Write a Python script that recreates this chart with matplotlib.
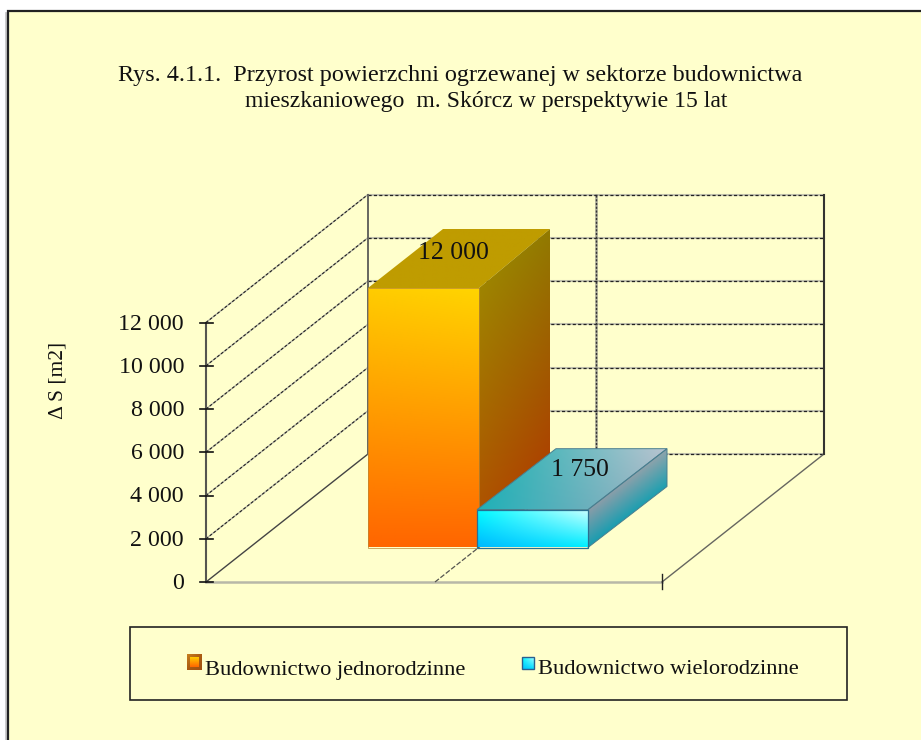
import numpy as np
import matplotlib
matplotlib.use('Agg')
import matplotlib.pyplot as plt
from matplotlib.patches import Polygon, Rectangle
from matplotlib.colors import to_rgb

# data
categories = ['Budownictwo jednorodzinne', 'Budownictwo wielorodzinne']
values = [12000, 1750]
value_labels = ['12 000', '1 750']
tick_values = [0, 2000, 4000, 6000, 8000, 10000, 12000]
tick_labels = ['0', '2 000', '4 000', '6 000', '8 000', '10 000', '12 000']
title_lines = ['Rys. 4.1.1.  Przyrost powierzchni ogrzewanej w sektorze budownictwa',
               'mieszkaniowego  m. Skórcz w perspektywie 15 lat']
y_label = 'Δ S [m2]'

# layout in pixels
BG = '#ffffcc'
FONT = 'Liberation Serif'
Y0 = 582.0
PX_PER_UNIT = 259.5 / 12000
X_LEFT, X_MID, X_RIGHT = 206, 435, 662
WALL_DX, WALL_DY = 162, -128
BAR_BASE = 547.5
BAR_X = [(368, 479), (477, 588)]
BAR_DEPTH = [(71, -59), (79, -61)]


def val_y(v, base=Y0):
    return base - v * PX_PER_UNIT


def shade(ax, pts, tl, tr, bl, br, edge='none', lw=0, z=3, shear=0.0):
    # polygon filled with a four corner gradient, clipped from an image
    # shear follows a slanted top edge (side faces of the bars)
    pts = np.array(pts, dtype=float)
    x0, y0 = pts.min(axis=0)
    x1, y1 = pts.max(axis=0)
    u, v = np.meshgrid(np.linspace(0, 1, 64), np.linspace(0, 1, 64))
    v = np.clip((v - shear * (1 - u)) / (1 - shear), 0, 1)
    img = np.zeros((64, 64, 3))
    for c, w in [(tl, (1 - u) * (1 - v)), (tr, u * (1 - v)), (bl, (1 - u) * v), (br, u * v)]:
        img += np.array(to_rgb(c)) * w[..., None]
    im = ax.imshow(img, extent=(x0, x1, y1, y0), aspect='auto', zorder=z, interpolation='bilinear')
    clip = Polygon(pts, closed=True, transform=ax.transData, fc='none', ec=edge, lw=lw, zorder=z + 0.1)
    ax.add_patch(clip)
    im.set_clip_path(clip)


fig = plt.figure(figsize=(9.21, 7.4), dpi=100)
ax = fig.add_axes([0, 0, 1, 1])
ax.axis('off')

# page frame
ax.add_patch(Rectangle((8, 11), 930, 760, fc=BG, ec='#222222', lw=1.6, zorder=1))
ax.plot([5.5, 5.5], [13, 740], color='#c8c8c8', lw=2, zorder=0.5)

# title
ax.text(118, 76, title_lines[0], family=FONT, fontsize=17.4, va='center', ha='left', color='#111111')
ax.text(245, 102, title_lines[1], family=FONT, fontsize=17.1, va='center', ha='left', color='#111111')

# walls and grid
dash = (0, (2.5, 1.8))
for t in tick_values:
    y = val_y(t)
    ax.plot([X_LEFT + WALL_DX, X_RIGHT + WALL_DX], [y + WALL_DY] * 2, color='#c4c4b0', lw=1.5, zorder=2)
    ax.plot([X_LEFT + WALL_DX, X_RIGHT + WALL_DX], [y + WALL_DY] * 2, color='#222222', lw=0.9, ls=dash, zorder=2.1)
    if t > 0:
        ax.plot([X_LEFT, X_LEFT + WALL_DX], [y, y + WALL_DY], color='#b4b4a4', lw=1.0, zorder=2)
        ax.plot([X_LEFT, X_LEFT + WALL_DX], [y, y + WALL_DY], color='#222222', lw=0.8, ls=dash, zorder=2.1)
top_y = val_y(12000) + WALL_DY
bot_y = Y0 + WALL_DY
ax.plot([X_LEFT + WALL_DX] * 2, [top_y, bot_y], color='#666660', lw=1.4, zorder=2.2)
ax.plot([X_RIGHT + WALL_DX] * 2, [top_y, bot_y], color='#333330', lw=1.5, zorder=2.2)
ax.plot([X_MID + WALL_DX - 1] * 2, [top_y, bot_y], color='#a8a898', lw=1.8, zorder=2)
ax.plot([X_MID + WALL_DX - 1] * 2, [top_y, bot_y], color='#333333', lw=1.0, ls=(0, (1.5, 1.2)), zorder=2.1)

# floor
ax.plot([X_LEFT, X_RIGHT], [Y0 - 0.5] * 2, color='#b8b8a8', lw=1.8, zorder=2)
ax.plot([X_LEFT, X_LEFT + WALL_DX], [Y0, Y0 + WALL_DY], color='#444444', lw=1.0, zorder=2.1)
ax.plot([X_RIGHT, X_RIGHT + WALL_DX], [Y0, Y0 + WALL_DY], color='#666660', lw=1.0, zorder=2.1)
ax.plot([X_MID, X_MID + WALL_DX], [Y0, Y0 + WALL_DY], color='#555550', lw=0.9, ls=(0, (4, 1.5)), zorder=2.1)

# y axis
ax.plot([X_LEFT, X_LEFT], [val_y(12000), Y0], color='#555550', lw=1.5, zorder=4)
for t, lab in zip(tick_values, tick_labels):
    y = val_y(t)
    ax.plot([X_LEFT - 6, X_LEFT + 7], [y, y], color='#111111', lw=1.2, zorder=4)
    ax.text(184, y + 1.5, lab, family=FONT, fontsize=17.2, ha='right', va='center', color='#111111')
ax.plot([X_RIGHT, X_RIGHT], [Y0 - 8, Y0 + 7], color='#222222', lw=1.0, zorder=4)
ax.text(58, 380, y_label, family=FONT, fontsize=15.5, rotation=90, ha='center', va='center', color='#111111')

# bar 1
(xa, xb), (dx, dy) = BAR_X[0], BAR_DEPTH[0]
ya = val_y(values[0], BAR_BASE)
shade(ax, [(xa, ya), (xb, ya), (xb + dx, ya + dy), (xa + dx + 4, ya + dy)],
      '#bf9c00', '#bf9c00', '#bf9c00', '#bf9c00', z=3)
shade(ax, [(xb, ya), (xb + dx, ya + dy), (xb + dx, BAR_BASE + dy), (xb, BAR_BASE)],
      '#9f8400', '#917a00', '#b04c00', '#b03c00', z=3, shear=-dy / (BAR_BASE - ya - dy))
shade(ax, [(xa, ya), (xb, ya), (xb, BAR_BASE), (xa, BAR_BASE)],
      '#ffcc00', '#ffd400', '#ff6600', '#ff6600', edge='#b88838', lw=0.5, z=3.2)

# bar 2
(xa, xb), (dx, dy) = BAR_X[1], BAR_DEPTH[1]
ya = val_y(values[1], BAR_BASE)
shade(ax, [(xa, ya), (xb, ya), (xb + dx, ya + dy), (xa + dx, ya + dy)],
      '#18b0b0', '#b8c4d0', '#20b0b8', '#a0b0c0', edge='#4a7f90', lw=0.7, z=3.4)
shade(ax, [(xb, ya), (xb + dx, ya + dy), (xb + dx, BAR_BASE + dy), (xb, BAR_BASE)],
      '#8c9ca8', '#90a4ac', '#1a9cb0', '#20a0b0', edge='#4a7f90', lw=0.7, z=3.4,
      shear=-dy / (BAR_BASE - ya - dy))
shade(ax, [(xa, ya), (xb, ya), (xb, BAR_BASE), (xa, BAR_BASE)],
      '#00ffff', '#ccffff', '#00b8ff', '#00f0ff', edge='#2a6f90', lw=0.9, z=3.6)

# value labels
ax.text(453, 253, value_labels[0], family=FONT, fontsize=18.5, ha='center', va='center', color='#111111', zorder=5)
ax.text(580, 470, value_labels[1], family=FONT, fontsize=18.5, ha='center', va='center', color='#111111', zorder=5)

# legend
ax.add_patch(Rectangle((130, 627), 717, 73, fc='none', ec='#222222', lw=1.2, zorder=4))
shade(ax, [(187, 654), (202, 654), (202, 670), (187, 670)], '#c88020', '#a85810', '#a85810', '#a05010', z=4)
shade(ax, [(190, 657), (199, 657), (199, 667), (190, 667)], '#ffcc00', '#ffcc00', '#ff6600', '#ff6600', z=4.2)
shade(ax, [(522, 657), (534, 657), (534, 669), (522, 669)], '#00ffff', '#aaffff', '#00c0ff', '#00e0ff',
      edge='#2a5f90', lw=1.0, z=4)
ax.text(205, 670, categories[0], family=FONT, fontsize=16.2, va='center', ha='left', color='#111111')
ax.text(538, 670, categories[1], family=FONT, fontsize=16.2, va='center', ha='left', color='#111111')

ax.set_xlim(0, 921)
ax.set_ylim(740, 0)
fig.savefig('out.png', dpi=100, facecolor='white')
